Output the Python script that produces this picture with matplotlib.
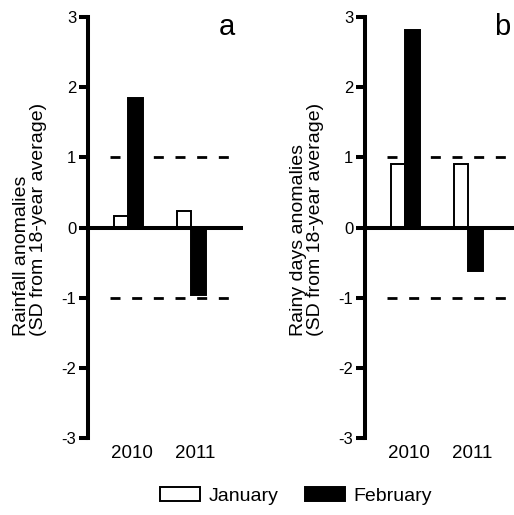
import numpy as np
import matplotlib.pyplot as plt
from matplotlib.patches import Patch

plt.rcParams['font.family'] = ['Liberation Sans', 'DejaVu Sans']

# Data
years = ['2010', '2011']
rain_jan = [0.17, 0.24]
rain_feb = [1.85, -0.96]
days_jan = [0.90, 0.90]
days_feb = [2.82, -0.62]
yticks = [-3, -2, -1, 0, 1, 2, 3]

panels = [
    ('a', 'Rainfall anomalies\n(SD from 18-year average)', rain_jan, rain_feb, 1.57),
    ('b', 'Rainy days anomalies\n(SD from 18-year average)', days_jan, days_feb, 1.54),
]

fig = plt.figure(figsize=(5.14, 5.15), dpi=100)
lefts = [88 / 514, 365 / 514]
width = 155 / 514
bottom = 77 / 515
height = 421 / 515
bw = 0.23
x = np.arange(len(years))
lw_axis = 2.9

for left, (letter, ylabel, jan, feb, letter_x) in zip(lefts, panels):
    ax = fig.add_axes([left, bottom, width, height])
    ax.set_xlim(-0.635, 1.825)
    ax.set_ylim(-3, 3)

    # +/- 1 SD reference lines and zero line
    for yv in (1, -1):
        ax.hlines(yv, -0.286, 1.603, color='black', lw=2.0,
                  linestyle=(0, (3.6, 4.2)), zorder=1)
    ax.axhline(0, color='black', lw=lw_axis, zorder=3)

    ax.bar(x - bw / 2, jan, bw, color='white', edgecolor='black', lw=1.4, zorder=2)
    ax.bar(x + bw / 2, feb, bw, color='black', edgecolor='black', lw=1.4, zorder=2)

    for s in ('top', 'right', 'bottom'):
        ax.spines[s].set_visible(False)
    ax.spines['left'].set_linewidth(lw_axis)
    ax.set_yticks(yticks)
    ax.set_yticklabels([str(v) for v in yticks])
    ax.tick_params(axis='y', width=lw_axis, length=6.5, labelsize=12, pad=2)
    ax.set_xticks(x + 0.07)
    ax.set_xticklabels(years)
    ax.tick_params(axis='x', length=0, labelsize=13.5, pad=5)
    ax.set_ylabel(ylabel, fontsize=14, linespacing=1.0)
    ax.yaxis.label.set_multialignment('left')
    ax.yaxis.set_label_coords(-0.265, 0.52)
    ax.text(letter_x, 2.743, letter, fontsize=21, ha='center', va='baseline')

handles = [Patch(facecolor='white', edgecolor='black', lw=1.4),
           Patch(facecolor='black', edgecolor='black', lw=1.4)]
fig.legend(handles, ['January', 'February'], loc='center', ncol=2,
           bbox_to_anchor=(0.576, 0.037), frameon=False, fontsize=14,
           handlelength=2.06, handleheight=0.72, columnspacing=1.4,
           handletextpad=0.4)

fig.savefig('out.png', dpi=100)
